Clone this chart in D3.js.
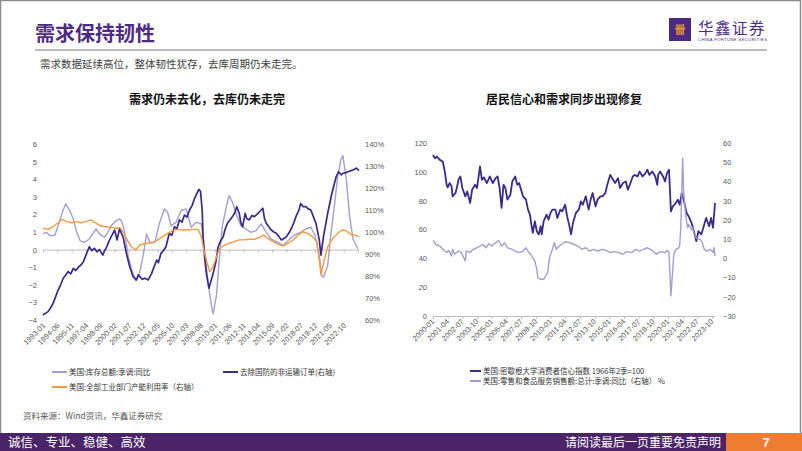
<!DOCTYPE html>
<html>
<head>
<meta charset="utf-8">
<title>需求保持韧性</title>
<script src="https://cdn.jsdelivr.net/npm/d3@7"></script>
<style>
  body { margin: 0; background: #fff; }
  svg { display: block; font-family: "Liberation Sans", Arial, sans-serif; }
  .cjk { font-family: "Noto Sans CJK SC", sans-serif; }
</style>
</head>
<body>
<svg id="page" width="802" height="451"></svg>
<script>
var parse = d3.timeParse("%Y-%m");

// left chart: 美国库存总额同比 (left axis)
var inventoryYoY = [
  ["1993-01",0.89],["1993-05",0.98],["1993-09",0.80],["1994-03",0.80],["1994-07",1.36],
  ["1994-12",2.12],["1995-04",2.60],["1995-09",2.20],["1996-01",1.74],["1996-05",0.98],
  ["1996-09",0.50],["1997-02",0.41],["1997-08",0.60],["1997-12",0.89],["1998-04",1.17],
  ["1998-08",0.89],["1999-02",0.70],["1999-06",0.98],["1999-10",1.36],["2000-04",1.65],
  ["2000-08",1.74],["2000-11",1.55],["2001-02",0.98],["2001-06",-0.34],["2001-10",-1.10],
  ["2002-03",-1.76],["2002-07",-1.48],["2002-12",-0.34],["2003-04",0.89],["2003-08",0.41],
  ["2004-02",0.41],["2004-07",1.46],["2005-01",2.31],["2005-05",2.12],["2005-09",1.36],
  ["2006-03",1.55],["2006-09",2.22],["2007-03",2.31],["2007-09",1.27],["2008-03",1.55],
  ["2008-09",1.46],["2009-01",-0.15],["2009-05",-1.86],["2009-09",-3.18],["2009-11",-3.65],
  ["2010-03",-2.60],["2010-06",-0.72],["2010-10",1.36],["2011-03",2.50],["2011-06",3.07],
  ["2011-10",2.69],["2012-03",1.93],["2012-08",1.36],["2013-02",1.17],["2013-08",0.98],
  ["2014-02",1.08],["2014-08",1.46],["2015-02",0.98],["2015-08",0.60],["2016-04",0.41],
  ["2016-10",0.23],["2017-02",0.41],["2017-08",0.70],["2018-02",0.89],["2018-07",0.98],
  ["2019-01",1.17],["2019-07",1.27],["2019-12",0.80],["2020-05",-0.34],["2020-08",-1.48],
  ["2020-10",-1.57],["2021-03",-0.91],["2021-07",0.98],["2021-11",2.50],["2022-03",4.20],
  ["2022-07",5.15],["2022-09",5.34],["2023-01",4.02],["2023-05",1.93],["2023-09",0.60],
  ["2024-01",0.23],["2024-03",0.04]
];

// 去除国防的非运输订单 (right axis, %)
var coreOrders = [
  ["1993-01",62.3],["1993-04",63.0],["1993-07",63.8],["1993-10",65.5],["1994-01",67.6],
  ["1994-04",70.5],["1994-07",73.6],["1994-10",76.0],["1995-01",79.0],["1995-04",80.5],
  ["1995-07",82.0],["1995-10",81.0],["1996-01",83.5],["1996-04",82.5],["1996-07",84.0],
  ["1996-10",85.0],["1997-01",86.5],["1997-04",89.5],["1997-08",93.3],["1997-11",91.5],
  ["1998-02",92.6],["1998-05",91.0],["1998-08",92.0],["1998-12",89.5],["1999-02",91.5],
  ["1999-04",92.6],["1999-07",95.5],["1999-10",97.9],["2000-02",100.9],["2000-05",96.4],
  ["2000-08",101.7],["2000-10",99.5],["2000-12",97.9],["2001-04",90.3],["2001-08",84.2],
  ["2001-12",79.7],["2002-04",78.2],["2002-06",80.5],["2002-08",79.7],["2002-11",78.5],
  ["2003-02",79.0],["2003-06",78.2],["2003-10",81.2],["2004-04",87.3],["2004-06",86.0],
  ["2004-09",90.3],["2004-12",91.5],["2005-03",93.3],["2005-07",99.4],["2005-10",98.5],
  ["2006-01",102.4],["2006-04",101.5],["2006-07",105.5],["2006-10",104.5],["2007-01",107.7],
  ["2007-04",106.8],["2007-07",110.0],["2007-10",112.0],["2008-01",115.3],["2008-06",119.4],
  ["2008-08",118.5],["2008-10",110.0],["2008-11",98.0],["2009-01",88.0],["2009-03",81.2],
  ["2009-06",74.5],["2009-08",77.0],["2009-11",81.2],["2010-02",86.0],["2010-05",93.3],
  ["2010-08",96.0],["2010-11",97.9],["2011-01",101.0],["2011-04",104.0],["2011-07",105.5],
  ["2011-10",107.0],["2012-01",109.0],["2012-03",111.5],["2012-06",108.5],["2012-08",104.0],
  ["2012-10",102.4],["2013-01",108.5],["2013-03",106.0],["2013-06",105.5],["2013-09",107.5],
  ["2013-12",107.0],["2014-03",108.0],["2014-06",109.2],["2014-10",110.8],["2014-12",106.0],
  ["2015-02",104.0],["2015-05",102.5],["2015-08",100.9],["2015-11",100.0],["2016-02",99.4],
  ["2016-05",98.0],["2016-08",96.4],["2016-11",97.0],["2017-02",97.9],["2017-05",99.5],
  ["2017-08",101.7],["2017-11",104.5],["2018-02",107.7],["2018-05",110.0],["2018-07",113.0],
  ["2018-10",111.5],["2019-01",111.5],["2019-04",110.5],["2019-07",110.0],["2019-10",107.0],
  ["2020-01",104.0],["2020-05",96.4],["2020-07",89.5],["2020-10",97.9],["2021-03",108.5],
  ["2021-08",117.6],["2022-01",125.1],["2022-04",127.4],["2022-07",126.0],["2022-09",126.7],
  ["2023-01",127.0],["2023-03",127.4],["2023-06",127.8],["2023-09",128.2],["2024-01",129.0],
  ["2024-04",127.9]
];

// 全部工业部门产能利用率 (right axis, %)
var capacityUtil = [
  ["1993-01",101.7],["1993-07",101.2],["1994-01",102.4],["1994-07",104.2],["1994-12",105.8],
  ["1995-05",104.7],["1995-11",104.2],["1996-05",104.7],["1996-10",104.2],["1997-04",104.7],
  ["1997-10",105.5],["1998-04",104.0],["1998-10",102.7],["1999-04",102.4],["1999-10",102.1],
  ["2000-04",101.7],["2000-08",102.1],["2000-12",100.1],["2001-05",96.4],["2001-10",93.3],
  ["2002-03",91.8],["2002-08",94.1],["2003-04",94.9],["2003-11",95.1],["2004-05",96.4],
  ["2004-11",97.9],["2005-05",99.4],["2005-11",100.6],["2006-05",101.2],["2006-11",100.9],
  ["2007-05",100.9],["2007-11",101.2],["2008-05",101.2],["2008-09",97.9],["2008-12",91.8],
  ["2009-04",85.8],["2009-07",82.0],["2009-11",84.2],["2010-03",88.8],["2010-07",92.6],
  ["2011-01",94.1],["2011-06",94.9],["2011-12",95.6],["2012-06",96.4],["2012-12",96.4],
  ["2013-06",96.7],["2013-12",96.7],["2014-06",97.6],["2014-11",98.6],["2015-04",97.1],
  ["2015-10",95.6],["2016-04",94.5],["2016-10",93.6],["2017-04",94.9],["2017-10",96.4],
  ["2018-04",98.6],["2018-09",100.1],["2019-03",99.4],["2019-09",97.9],["2020-02",95.6],
  ["2020-05",87.3],["2020-07",80.5],["2020-10",85.8],["2021-03",93.3],["2021-09",97.1],
  ["2022-03",99.4],["2022-08",100.9],["2023-01",100.6],["2023-06",99.1],["2023-11",98.6],
  ["2024-04",97.9]
];

var leftTickLabels = ["1993-01","1994-06","1995-11","1997-04","1998-09","2000-02","2001-07",
  "2002-12","2004-05","2005-10","2007-03","2008-08","2010-01","2011-06","2012-11","2014-04",
  "2015-09","2017-02","2018-07","2019-12","2021-05","2022-10"];

// right chart: 密歇根大学消费者信心指数 (left axis)
var sentiment = [
  ["2000-01",111.7],["2000-03",109.4],["2000-05",110.6],["2000-08",108.3],["2000-11",107.1],
  ["2001-01",100.2],["2001-03",91.0],["2001-04",89.2],["2001-06",92.2],["2001-08",89.9],
  ["2001-09",83.0],["2001-12",85.3],["2002-02",91.0],["2002-03",94.5],["2002-05",96.8],
  ["2002-07",88.8],["2002-10",83.0],["2002-12",86.4],["2003-03",78.4],["2003-05",87.6],
  ["2003-08",91.0],["2003-10",88.8],["2004-01",103.7],["2004-03",94.5],["2004-05",96.1],
  ["2004-08",92.2],["2004-11",96.8],["2005-02",92.2],["2005-05",95.6],["2005-07",96.8],
  ["2005-09",88.8],["2005-11",75.0],["2006-01",91.0],["2006-03",88.8],["2006-05",80.7],
  ["2006-08",84.1],["2006-10",93.3],["2007-01",96.8],["2007-03",91.0],["2007-05",92.2],
  ["2007-07",87.6],["2007-09",83.0],["2007-12",80.7],["2008-02",73.8],["2008-04",70.3],
  ["2008-06",61.2],["2008-07",57.7],["2008-09",65.7],["2008-11",58.8],["2009-01",56.6],
  ["2009-03",62.3],["2009-04",56.6],["2009-06",65.7],["2009-09",70.3],["2009-11",66.9],
  ["2010-01",71.5],["2010-03",73.8],["2010-06",73.8],["2010-08",68.0],["2010-11",73.8],
  ["2011-01",72.6],["2011-04",77.2],["2011-06",69.2],["2011-08",63.4],["2011-10",56.6],
  ["2011-12",64.6],["2012-03",71.5],["2012-06",73.8],["2012-08",79.5],["2012-10",77.2],
  ["2013-01",83.0],["2013-04",73.8],["2013-06",80.7],["2013-08",85.3],["2013-11",76.1],
  ["2014-01",80.7],["2014-04",83.0],["2014-06",83.0],["2014-09",85.3],["2014-11",91.0],
  ["2015-02",97.9],["2015-05",94.5],["2015-07",92.2],["2015-10",95.6],["2015-12",88.8],
  ["2016-03",92.2],["2016-06",93.3],["2016-08",87.6],["2016-10",91.0],["2017-01",96.8],
  ["2017-03",97.9],["2017-06",96.8],["2017-08",100.2],["2017-11",96.8],["2018-02",99.1],
  ["2018-04",101.4],["2018-06",97.9],["2018-09",100.2],["2018-12",96.8],["2019-02",91.0],
  ["2019-03",97.9],["2019-05",100.2],["2019-08",96.8],["2019-10",93.3],["2019-12",99.1],
  ["2020-02",101.4],["2020-04",72.6],["2020-06",76.1],["2020-09",78.4],["2020-11",80.7],
  ["2021-01",77.2],["2021-03",85.3],["2021-05",80.7],["2021-08",71.5],["2021-10",69.2],
  ["2022-01",64.6],["2022-03",60.0],["2022-06",51.9],["2022-08",58.8],["2022-11",56.6],
  ["2023-02",63.4],["2023-04",68.0],["2023-07",62.3],["2023-09",68.0],["2023-11",61.2],
  ["2024-01",78.4]
];

// 零售和食品服务销售额同比 (right axis, %)
var retailYoY = [
  ["2000-01",9.3],["2000-04",7.2],["2000-08",6.4],["2000-11",4.7],["2001-03",3.0],
  ["2001-05",4.1],["2001-08",1.2],["2001-09",4.7],["2001-11",2.1],["2002-03",3.8],
  ["2002-06",3.0],["2002-10",-1.4],["2002-11",3.8],["2003-03",3.0],["2003-06",4.7],
  ["2003-10",5.5],["2004-01",6.4],["2004-04",7.2],["2004-07",5.5],["2004-10",7.6],
  ["2005-01",6.4],["2005-05",8.1],["2005-08",9.3],["2005-11",6.4],["2006-02",8.1],
  ["2006-05",5.5],["2006-10",4.7],["2007-01",3.8],["2007-05",3.0],["2007-09",3.8],
  ["2007-12",5.5],["2008-03",3.0],["2008-06",1.2],["2008-09",-1.4],["2008-11",-5.7],
  ["2008-12",-10.0],["2009-03",-10.9],["2009-06",-10.9],["2009-08",-9.2],["2009-10",-7.4],
  ["2009-12",0.4],["2010-03",4.7],["2010-05",8.1],["2010-07",4.7],["2010-10",6.4],
  ["2011-01",7.6],["2011-04",8.6],["2011-09",8.1],["2012-01",7.2],["2012-05",6.4],
  ["2012-09",4.7],["2013-01",5.5],["2013-05",3.8],["2013-09",4.7],["2014-01",3.8],
  ["2014-06",4.7],["2014-10",4.1],["2015-02",3.0],["2015-06",3.5],["2015-11",3.0],
  ["2016-03",2.1],["2016-07",3.5],["2016-12",3.0],["2017-04",4.7],["2017-08",3.8],
  ["2017-12",4.7],["2018-04",5.5],["2018-09",4.1],["2019-01",2.1],["2019-05",3.5],
  ["2019-10",3.0],["2019-12",4.1],["2020-02",3.0],["2020-03",-8.3],["2020-04",-19.5],
  ["2020-06",-4.8],["2020-07",2.1],["2020-09",4.7],["2020-12",5.5],["2021-01",7.2],
  ["2021-02",15.9],["2021-04",52.1],["2021-05",34.8],["2021-07",22.8],["2021-09",15.9],
  ["2021-10",17.6],["2022-01",15.0],["2022-02",15.9],["2022-04",12.4],["2022-06",10.7],
  ["2022-10",9.8],["2022-12",8.1],["2023-02",4.7],["2023-05",3.8],["2023-08",4.7],
  ["2023-11",3.0],["2023-12",5.5],["2024-01",1.2]
];

var rightTickLabels = ["2000-01","2001-04","2002-07","2003-10","2005-01","2006-04","2007-07",
  "2008-10","2010-01","2011-04","2012-07","2013-10","2015-01","2016-04","2017-07","2018-10",
  "2020-01","2021-04","2022-07","2023-10"];

var DARK = "#3b2a8a", LIGHT = "#a29ed3", ORANGE = "#f59b3c", AXIS = "#bdbdbd", TXT = "#595959";

var svg = d3.select("#page");

// page frame + header
svg.append("rect").attr("x", 0.5).attr("y", 0.5).attr("width", 800).attr("height", 440)
  .attr("fill", "none").attr("stroke", "#8c8c8c").attr("stroke-width", 1.5);

svg.append("text").attr("class", "cjk").attr("x", 35).attr("y", 41)
  .attr("font-size", 20).attr("font-weight", "bold").attr("fill", "#4e2a84")
  .text("需求保持韧性");
svg.append("line").attr("x1", 35).attr("x2", 767).attr("y1", 50).attr("y2", 50)
  .attr("stroke", "#a6a3b3").attr("stroke-width", 1.5);
svg.append("text").attr("class", "cjk").attr("x", 40).attr("y", 68)
  .attr("font-size", 10.5).attr("fill", "#404040")
  .text("需求数据延续高位，整体韧性犹存，去库周期仍未走完。");

// logo
svg.append("rect").attr("x", 669).attr("y", 18).attr("width", 22).attr("height", 23).attr("fill", "#4b2a85");
svg.append("text").attr("class", "cjk").attr("x", 680).attr("y", 34).attr("text-anchor", "middle")
  .attr("font-size", 11).attr("font-weight", "bold").attr("fill", "#f29a2e").text("卌");
svg.append("text").attr("class", "cjk").attr("x", 698).attr("y", 34)
  .attr("font-size", 15.5).attr("letter-spacing", 1.5).attr("fill", "#4b2a85").text("华鑫证券");
svg.append("text").attr("x", 698).attr("y", 41).attr("font-size", 4.2).attr("fill", "#4b2a85")
  .attr("textLength", 69).text("CHINA FORTUNE SECURITIES");

// ---------- left chart ----------
var x1 = d3.scaleTime().domain([parse("1993-01"), parse("2024-03")]).range([43, 358]);
var yl1 = d3.scaleLinear().domain([-4, 6]).range([320, 144]);
var yr1 = d3.scaleLinear().domain([60, 140]).range([320, 144]);

svg.append("text").attr("class", "cjk").attr("x", 207).attr("y", 104).attr("text-anchor", "middle")
  .attr("font-size", 12).attr("font-weight", "bold").attr("fill", "#111").text("需求仍未去化，去库仍未走完");

var ax1 = svg.append("g").attr("transform", "translate(0," + yl1(0) + ")")
  .call(d3.axisBottom(x1)
    .tickValues(leftTickLabels.concat(["2024-03"]).map(parse))
    .tickSize(3).tickSizeOuter(0).tickFormat(""));
ax1.selectAll("path,line").attr("stroke", AXIS);

svg.append("g").selectAll("text").data(leftTickLabels).join("text")
  .attr("transform", function(d) { return "translate(" + (x1(parse(d)) + 3) + ",326) rotate(-45)"; })
  .attr("text-anchor", "end").attr("font-size", 7.5).attr("fill", TXT).text(function(d) { return d; });

var la1 = svg.append("g").attr("transform", "translate(43,0)")
  .call(d3.axisLeft(yl1).tickValues(d3.range(-4, 7)).tickSize(0).tickPadding(6));
var ra1 = svg.append("g").attr("transform", "translate(358,0)")
  .call(d3.axisRight(yr1).tickValues(d3.range(60, 141, 10)).tickSize(0).tickPadding(7)
    .tickFormat(function(d) { return d + "%"; }));
[la1, ra1].forEach(function(g) {
  g.select(".domain").remove();
  g.selectAll("text").attr("font-size", 7.5).attr("fill", TXT).attr("font-family", "Liberation Sans, Arial, sans-serif");
});

function drawLine(data, x, y, color, w) {
  svg.append("path").datum(data)
    .attr("fill", "none").attr("stroke", color).attr("stroke-width", w)
    .attr("stroke-linejoin", "round")
    .attr("d", d3.line().x(function(d) { return x(parse(d[0])); }).y(function(d) { return y(d[1]); }));
}

drawLine(inventoryYoY, x1, yl1, LIGHT, 1.4);
drawLine(coreOrders, x1, yr1, DARK, 1.7);
drawLine(capacityUtil, x1, yr1, ORANGE, 1.4);

// left legend
var legL = [
  { x: 52, y: 372, c: LIGHT, t: "美国:库存总额:季调:同比" },
  { x: 223, y: 372, c: DARK, t: "去除国防的非运输订单(右轴)" },
  { x: 52, y: 387, c: ORANGE, t: "美国:全部工业部门产能利用率（右轴）" }
];
legL.forEach(function(l) {
  svg.append("line").attr("x1", l.x).attr("x2", l.x + 15).attr("y1", l.y).attr("y2", l.y)
    .attr("stroke", l.c).attr("stroke-width", 2);
  svg.append("text").attr("class", "cjk").attr("x", l.x + 17).attr("y", l.y + 3)
    .attr("font-size", 7.5).attr("fill", "#333").text(l.t);
});

// ---------- right chart ----------
var x2 = d3.scaleTime().domain([parse("2000-01"), parse("2024-01")]).range([433, 715]);
var yl2 = d3.scaleLinear().domain([0, 120]).range([316, 143]);
var yr2 = d3.scaleLinear().domain([-30, 60]).range([316, 143]);

svg.append("text").attr("class", "cjk").attr("x", 564).attr("y", 104).attr("text-anchor", "middle")
  .attr("font-size", 12).attr("font-weight", "bold").attr("fill", "#111").text("居民信心和需求同步出现修复");

var ax2 = svg.append("g").attr("transform", "translate(0,316)")
  .call(d3.axisBottom(x2).tickValues(rightTickLabels.map(parse)).tickSize(3).tickSizeOuter(0).tickFormat(""));
ax2.selectAll("path,line").attr("stroke", AXIS);

svg.append("g").selectAll("text").data(rightTickLabels).join("text")
  .attr("transform", function(d) { return "translate(" + (x2(parse(d)) + 2) + ",322) rotate(-45)"; })
  .attr("text-anchor", "end").attr("font-size", 7.5).attr("fill", TXT).text(function(d) { return d; });

var la2 = svg.append("g").attr("transform", "translate(433,0)")
  .call(d3.axisLeft(yl2).tickValues(d3.range(0, 121, 20)).tickSize(0).tickPadding(6));
var ra2 = svg.append("g").attr("transform", "translate(715,0)")
  .call(d3.axisRight(yr2).tickValues(d3.range(-30, 61, 10)).tickSize(0).tickPadding(8));
[la2, ra2].forEach(function(g) {
  g.select(".domain").remove();
  g.selectAll("text").attr("font-size", 7.5).attr("fill", TXT).attr("font-family", "Liberation Sans, Arial, sans-serif");
});

drawLine(sentiment, x2, yl2, DARK, 1.8);
drawLine(retailYoY, x2, yr2, LIGHT, 1.4);

var legR = [
  { y: 371, c: DARK, t: "美国:密歇根大学消费者信心指数 1966年2季=100" },
  { y: 381, c: LIGHT, t: "美国:零售和食品服务销售额:总计:季调:同比（右轴） %" }
];
legR.forEach(function(l) {
  svg.append("line").attr("x1", 470).attr("x2", 481).attr("y1", l.y).attr("y2", l.y)
    .attr("stroke", l.c).attr("stroke-width", 2);
  svg.append("text").attr("class", "cjk").attr("x", 483).attr("y", l.y + 3)
    .attr("font-size", 7.5).attr("fill", "#333").text(l.t);
});

// source + footer
svg.append("text").attr("class", "cjk").attr("x", 23).attr("y", 419)
  .attr("font-size", 8.5).attr("fill", TXT).text("资料来源：Wind资讯，华鑫证券研究");

svg.append("rect").attr("x", 0).attr("y", 433).attr("width", 802).attr("height", 18).attr("fill", "#4a2466");
svg.append("rect").attr("x", 726).attr("y", 433).attr("width", 76).attr("height", 18).attr("fill", "#ee7d31");
svg.append("text").attr("class", "cjk").attr("x", 8).attr("y", 447)
  .attr("font-size", 12.5).attr("fill", "#fff").text("诚信、专业、稳健、高效");
svg.append("text").attr("class", "cjk").attr("x", 721).attr("y", 447).attr("text-anchor", "end")
  .attr("font-size", 12).attr("fill", "#fff").text("请阅读最后一页重要免责声明");
svg.append("text").attr("x", 766).attr("y", 447).attr("text-anchor", "middle")
  .attr("font-size", 13).attr("font-weight", "bold").attr("fill", "#fff").text("7");
</script>
</body>
</html>
